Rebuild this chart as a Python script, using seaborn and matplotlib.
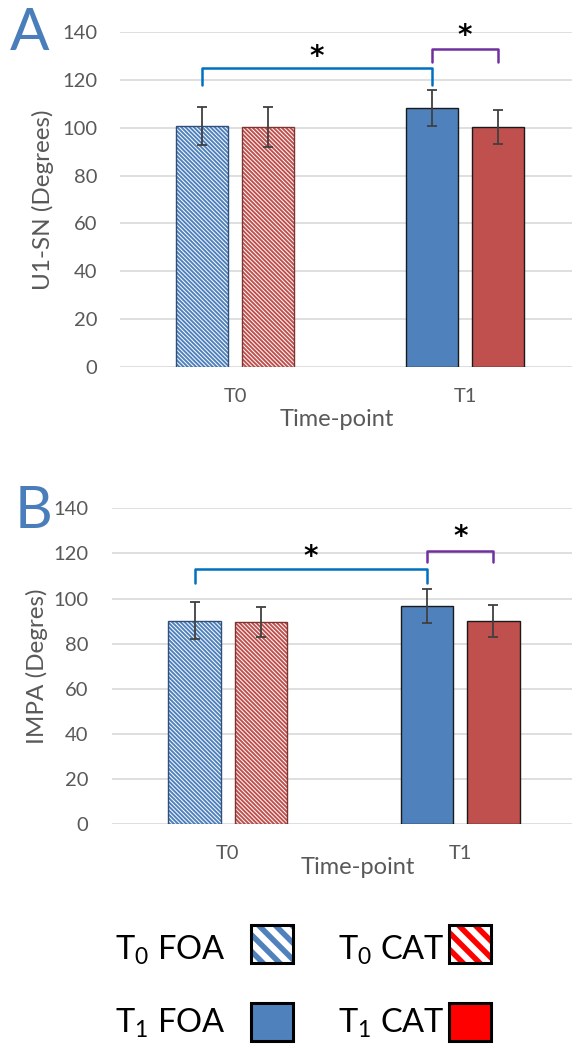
import numpy as np
import pandas as pd
import matplotlib
matplotlib.use("Agg")
import matplotlib.pyplot as plt
from matplotlib.patches import Rectangle
import seaborn as sns

# ---------------- data ----------------
times = ["T0", "T1"]
groups = ["FOA", "CAT"]

a_foa = [100.7, 108.4]
a_cat = [100.3, 100.3]
a_foa_sd = [8.0, 7.5]
a_cat_sd = [8.2, 7.3]

b_foa = [90.2, 96.7]
b_cat = [89.6, 90.2]
b_foa_sd = [8.2, 7.6]
b_cat_sd = [6.8, 7.0]

y_ticks = [0, 20, 40, 60, 80, 100, 120, 140]
ylabel_a = "U1-SN (Degrees)"
ylabel_b = "IMPA (Degres)"
xlabel = "Time-point"
legend_labels = [r"T$_\mathregular{0}$ FOA", r"T$_\mathregular{0}$ CAT",
                 r"T$_\mathregular{1}$ FOA", r"T$_\mathregular{1}$ CAT"]
# significance brackets: (bar1, bar2, top, leg, star, colour)
brackets_a = [(("T0", "FOA"), ("T1", "FOA"), 125.0, 118.0, 129.5, "#0070c0"),
              (("T1", "FOA"), ("T1", "CAT"), 133.0, 127.5, 138.5, "#7030a0")]
brackets_b = [(("T0", "FOA"), ("T1", "FOA"), 113.0, 106.8, 118.5, "#0070c0"),
              (("T1", "FOA"), ("T1", "CAT"), 121.0, 116.0, 127.5, "#7030a0")]

BLUE = "#4f81bd"
RED = "#c0504d"
GRAY = "#595959"

sns.set_theme(style="white")
plt.rcParams['font.family'] = ['Lato', 'DejaVu Sans']
plt.rcParams['mathtext.fontset'] = 'custom'
plt.rcParams['mathtext.rm'] = 'Lato'
plt.rcParams['mathtext.it'] = 'Lato:italic'
plt.rcParams['mathtext.bf'] = 'Lato:bold'
plt.rcParams['hatch.linewidth'] = 1.4

W, H = 572, 1046
fig = plt.figure(figsize=(W / 100, H / 100), dpi=100)
fig.patch.set_facecolor("white")


def fx(px):
    return px / W


def fy(py):
    return 1 - py / H


axA = fig.add_axes([fx(120), fy(367), 460 / W, 335 / H])
axB = fig.add_axes([fx(111.5), fy(824.3), 465 / W, 316 / H])


def panel(ax, foa, cat, foa_sd, cat_sd, ylabel, ylab_xy, xlab_xy, brackets):
    df = pd.DataFrame({
        "time": times * 2,
        "group": ["FOA"] * 2 + ["CAT"] * 2,
        "value": foa + cat,
        "sd": foa_sd + cat_sd,
    })
    sns.barplot(data=df, x="time", y="value", hue="group", order=times,
                hue_order=groups, palette={"FOA": BLUE, "CAT": RED},
                width=0.572, gap=0.21, errorbar=None, legend=False, ax=ax,
                saturation=1)
    centers = {}
    bars = [p for p in ax.patches if isinstance(p, Rectangle)]
    for p in bars:
        cx = p.get_x() + p.get_width() / 2
        t = times[int(round(cx))]
        fc = matplotlib.colors.to_hex(p.get_facecolor())
        g = "FOA" if fc == BLUE.lower() else "CAT"
        centers[(t, g)] = cx
        col = BLUE if g == "FOA" else RED
        if t == "T0":
            p.set_facecolor("white")
            p.set_edgecolor(col)
            p.set_hatch("\\" * 8)
            p.set_linewidth(0)
            edge = "#30507a" if g == "FOA" else "#7d3432"
            ax.add_patch(Rectangle(p.get_xy(), p.get_width(), p.get_height(),
                                   fill=False, edgecolor=edge, linewidth=1.0,
                                   zorder=p.get_zorder() + 0.1))
        else:
            p.set_edgecolor("#1a1a1a")
            p.set_linewidth(1.0)
    xs = [centers[(t, g)] for t, g in zip(df["time"], df["group"])]
    ax.errorbar(xs, df["value"], yerr=df["sd"], fmt="none", ecolor="#404040",
                elinewidth=1.3, capsize=3.5, capthick=1.3, zorder=5)

    for b1, b2, top, leg, star_y, col in brackets:
        x1, x2 = centers[b1], centers[b2]
        ax.plot([x1, x1, x2, x2], [leg, top, top, leg], color=col,
                linewidth=1.8, solid_joinstyle="round", zorder=6)
        ax.text((x1 + x2) / 2, star_y, "*", ha="center", va="center",
                fontsize=20, fontweight="bold", color="black",
                family="DejaVu Sans", zorder=6)

    ax.set_ylim(0, 140)
    ax.set_xlim(-0.5, 1.5)
    ax.set_yticks(y_ticks)
    ax.yaxis.grid(True, color="#d9d9d9", linewidth=1.2)
    ax.xaxis.grid(False)
    ax.set_axisbelow(True)
    for s in ax.spines.values():
        s.set_visible(False)
    ax.tick_params(axis="y", length=0, pad=16.5, labelsize=14.5,
                   labelcolor=GRAY)
    ax.tick_params(axis="x", length=0, pad=15, labelsize=14.5,
                   labelcolor=GRAY)
    ax.set_ylabel(ylabel, fontsize=17.5, color=GRAY)
    ax.yaxis.label.set_va("center")
    ax.yaxis.set_label_coords(*ylab_xy)
    ax.set_xlabel(xlabel, fontsize=17, color=GRAY)
    ax.xaxis.label.set_va("center")
    ax.xaxis.set_label_coords(*xlab_xy)
    ax.set_facecolor("white")


panel(axA, a_foa, a_cat, a_foa_sd, a_cat_sd, ylabel_a,
      (-0.167, 0.4985), (0.472, -0.158), brackets_a)
panel(axB, b_foa, b_cat, b_foa_sd, b_cat_sd, ylabel_b,
      (-0.160, 0.501), (0.530, -0.136), brackets_b)

# panel letters
fig.text(fx(30), fy(50), "A", fontsize=42, color="#4a7ebb",
         ha="center", va="baseline")
fig.text(fx(33), fy(528), "B", fontsize=42, color="#4a7ebb",
         ha="center", va="baseline")

# custom legend
text_pos = [(115, 960), (338, 960), (115, 1033), (338, 1033)]
box_pos = [(251, 925), (449, 925), (251, 1003), (449, 1003)]
box_style = [("hatch", "#4f81bd"), ("hatch", "#ff0000"),
             ("solid", "#4f81bd"), ("solid", "#ff0000")]
for lab, (tx, ty) in zip(legend_labels, text_pos):
    fig.text(fx(tx), fy(ty), lab, fontsize=23.5, color="black",
             ha="left", va="baseline")
for (bx, by), (kind, col) in zip(box_pos, box_style):
    bw, bh = 42, 38
    xy = (fx(bx), fy(by + bh))
    if kind == "hatch":
        with plt.rc_context({"hatch.linewidth": 4.0}):
            r = Rectangle(xy, bw / W, bh / H, transform=fig.transFigure,
                          facecolor="white", edgecolor=col, hatch="\\\\",
                          linewidth=0)
        if hasattr(r, "set_hatch_linewidth"):
            r.set_hatch_linewidth(4.0)
        fig.add_artist(r)
        fig.add_artist(Rectangle(xy, bw / W, bh / H, transform=fig.transFigure,
                                 fill=False, edgecolor="black", linewidth=2.2))
    else:
        fig.add_artist(Rectangle(xy, bw / W, bh / H, transform=fig.transFigure,
                                 facecolor=col, edgecolor="black",
                                 linewidth=2.2))

fig.savefig("out.png", dpi=100, facecolor="white")
